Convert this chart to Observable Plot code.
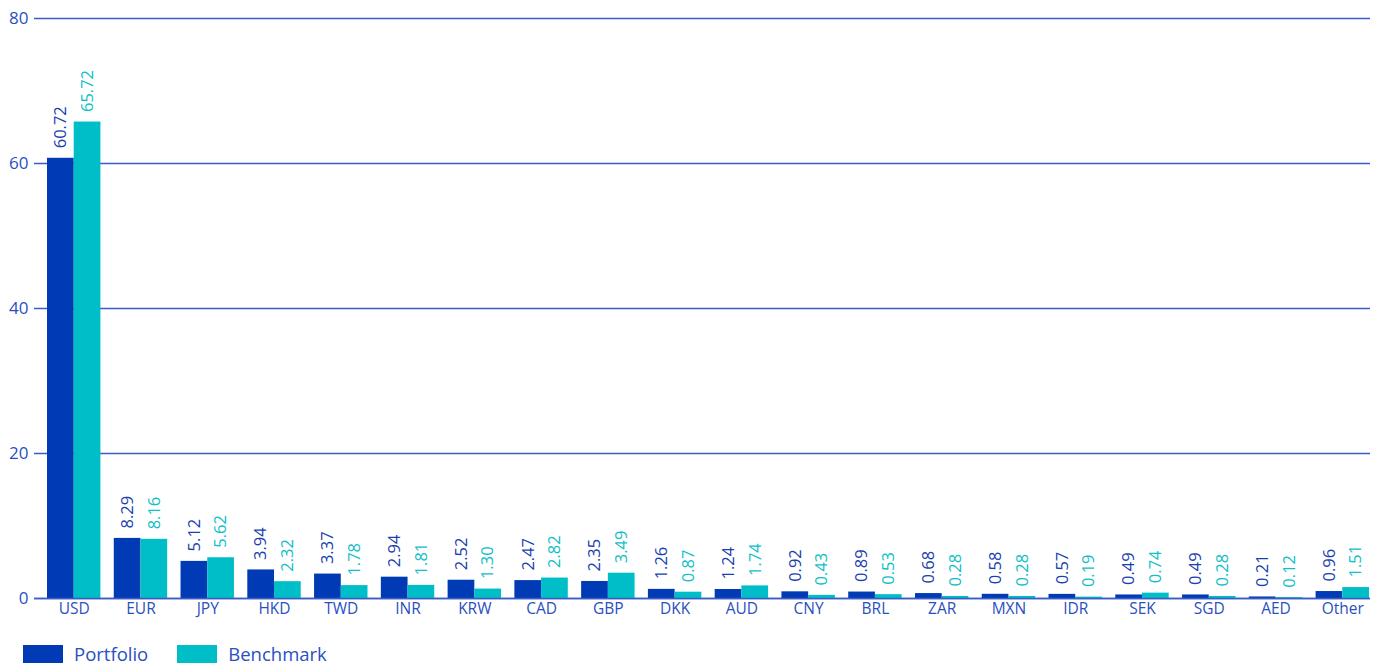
<!DOCTYPE html>
<html><head><meta charset="utf-8">
<script src="https://cdn.jsdelivr.net/npm/d3@7"></script>
<script src="https://cdn.jsdelivr.net/npm/@observablehq/plot@0.6"></script>
<style>
body{margin:0;background:#fff;font-family:"Open Sans",sans-serif}
#legend{display:flex;align-items:center;padding-left:23px;height:18px;margin-top:15px}
.item{display:flex;align-items:center;margin-right:29px}
.sw{width:40px;height:18px;margin-right:11px}
.lab{font-size:18.5px;color:#2a4fbf;line-height:18px}
</style>
</head><body><div id="chart"></div><div id="legend"></div>
<script>
const currencies = ["USD","EUR","JPY","HKD","TWD","INR","KRW","CAD","GBP","DKK","AUD","CNY","BRL","ZAR","MXN","IDR","SEK","SGD","AED","Other"];
const portfolio = [60.72,8.29,5.12,3.94,3.37,2.94,2.52,2.47,2.35,1.26,1.24,0.92,0.89,0.68,0.58,0.57,0.49,0.49,0.21,0.96];
const benchmark = [65.72,8.16,5.62,2.32,1.78,1.81,1.30,2.82,3.49,0.87,1.74,0.43,0.53,0.28,0.28,0.19,0.74,0.28,0.12,1.51];
const yTicks = [0,20,40,60,80];
const seriesNames = ["Portfolio","Benchmark"];
const seriesColors = ["#003ab4","#00bec8"];
const gridColor = "#3a5cc4";
const textColor = "#2a4fbf";

const pData = currencies.map((c,i)=>({currency:c, value:portfolio[i]}));
const bData = currencies.map((c,i)=>({currency:c, value:benchmark[i]}));

const W=1383, H=630, ml=47, mr=14, mt=18, mb=32;
const padInner=0.2;
const step=(W-ml-mr)/(currencies.length - padInner);
const half = step*(1-padInner)/2;

const chart = Plot.plot({
  width: W, height: H,
  marginLeft: ml, marginRight: mr, marginTop: mt, marginBottom: mb,
  style: {fontFamily: '"Open Sans", sans-serif', color: textColor, background: "#fff"},
  x: {type: "band", domain: currencies, paddingInner: padInner, paddingOuter: 0, round: false, label: null},
  y: {domain: [0, 80], label: null},
  marks: [
    Plot.ruleY(yTicks, {stroke: gridColor, strokeWidth: 1.5, insetLeft: -13, insetRight: -1}),
    Plot.barY(pData, {x: "currency", y: "value", fill: seriesColors[0], insetRight: half}),
    Plot.barY(bData, {x: "currency", y: "value", fill: seriesColors[1], insetLeft: half}),
    Plot.ruleY([0], {stroke: gridColor, strokeWidth: 1.5, insetLeft: -13, insetRight: -1}),
    Plot.text(pData, {x: "currency", y: "value", text: d => d.value.toFixed(2), rotate: -90, textAnchor: "start", lineAnchor: "middle", dx: -half/2, dy: -10, fill: "#1a3fb0", fontSize: 16.5}),
    Plot.text(bData, {x: "currency", y: "value", text: d => d.value.toFixed(2), rotate: -90, textAnchor: "start", lineAnchor: "middle", dx: half/2, dy: -10, fill: "#10bfc8", fontSize: 16.5}),
    Plot.axisY({ticks: yTicks, tickSize: 0, tickPadding: 19, fontSize: 17, fill: textColor}),
    Plot.axisX({tickSize: 0, tickPadding: 4, fontSize: 15.5, fill: textColor})
  ]
});
document.getElementById("chart").appendChild(chart);

const legend = document.getElementById("legend");
seriesNames.forEach((n,i)=>{
  const it = document.createElement("div"); it.className="item";
  const sw = document.createElement("div"); sw.className="sw"; sw.style.background=seriesColors[i];
  const lb = document.createElement("span"); lb.className="lab"; lb.textContent=n;
  it.appendChild(sw); it.appendChild(lb); legend.appendChild(it);
});
</script>
</body></html>
